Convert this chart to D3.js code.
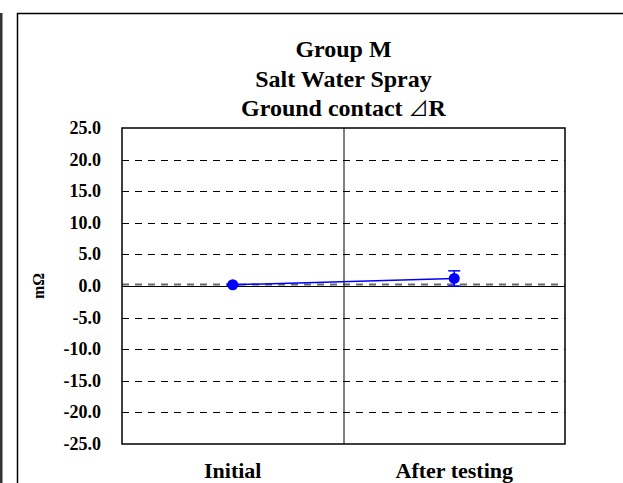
<!DOCTYPE html>
<html>
<head>
<meta charset="utf-8">
<script src="https://cdn.jsdelivr.net/npm/d3@7"></script>
<style>
  body { margin: 0; background: #fff; }
  svg text { font-family: "Liberation Serif", "Times New Roman", serif; font-weight: bold; fill: #000; }
  svg tspan.tri { font-family: "Noto Sans CJK JP", sans-serif; font-weight: normal; font-size: 20px; }
</style>
</head>
<body>
<script>
// chart values
var categories = ["Initial", "After testing"];
var means = [0.2, 1.2];
var errors = [0.1, 1.2];
var yTicks = [25, 20, 15, 10, 5, 0, -5, -10, -15, -20, -25];
var titleLines = ["Group M", "Salt Water Spray", "Ground contact \u22BFR"];
var yTitle = "m\u03A9";

var width = 623, height = 483;
var plot = { left: 122, right: 565, top: 128, bottom: 444 };

var svg = d3.select("body").append("svg")
    .attr("width", width)
    .attr("height", height);

// dark strip on far left and the chart frame
svg.append("rect")
    .attr("x", 0).attr("y", 13)
    .attr("width", 2.5).attr("height", height - 13)
    .attr("fill", "#333");

svg.append("rect")
    .attr("x", 17.5).attr("y", 13.5)
    .attr("width", 700).attr("height", 600)
    .attr("fill", "none")
    .attr("stroke", "#000")
    .attr("stroke-width", 1.5);

var x = d3.scaleBand()
    .domain(categories)
    .range([plot.left, plot.right])
    .padding(0);

var y = d3.scaleLinear()
    .domain([-25, 25])
    .range([plot.bottom, plot.top]);

// title, the triangle glyph goes in its own tspan
var titles = svg.selectAll(".title")
    .data(titleLines)
    .enter().append("text")
    .attr("class", "title")
    .attr("x", (plot.left + plot.right) / 2)
    .attr("y", function(d, i) { return 57 + i * 29.5; })
    .attr("text-anchor", "middle")
    .attr("font-size", "24px");

titles.each(function(d) {
    var t = d3.select(this);
    d.split(/(\u22BF)/).forEach(function(part) {
        if (!part) return;
        t.append("tspan")
            .attr("class", part === "\u22BF" ? "tri" : null)
            .text(part);
    });
});

// dashed grid
svg.selectAll(".grid")
    .data(yTicks.filter(function(d) { return d !== 25 && d !== -25; }))
    .enter().append("line")
    .attr("class", "grid")
    .attr("x1", plot.left).attr("x2", plot.right)
    .attr("y1", function(d) { return Math.round(y(d)) + 0.5 - (d === 0 ? 2 : 0); })
    .attr("y2", function(d) { return Math.round(y(d)) + 0.5 - (d === 0 ? 2 : 0); })
    .attr("stroke", function(d) { return d === 0 ? "#666" : "#000"; })
    .attr("stroke-width", function(d) { return d === 0 ? 2 : 1; })
    .attr("stroke-dasharray", "7,6");

// zero line
svg.append("line")
    .attr("x1", plot.left).attr("x2", plot.right)
    .attr("y1", Math.round(y(0)) + 0.5).attr("y2", Math.round(y(0)) + 0.5)
    .attr("stroke", "#000").attr("stroke-width", 1.2);

// divider between categories
svg.append("line")
    .attr("x1", x(categories[1]) + 0.5).attr("x2", x(categories[1]) + 0.5)
    .attr("y1", plot.top).attr("y2", plot.bottom)
    .attr("stroke", "#000").attr("stroke-width", 1);

// plot border
svg.append("rect")
    .attr("x", plot.left).attr("y", plot.top)
    .attr("width", plot.right - plot.left)
    .attr("height", plot.bottom - plot.top)
    .attr("fill", "none")
    .attr("stroke", "#000")
    .attr("stroke-width", 1.5);

// y tick labels (plain hyphen for negatives)
svg.selectAll(".ytick")
    .data(yTicks)
    .enter().append("text")
    .attr("class", "ytick")
    .attr("x", plot.left - 21)
    .attr("y", function(d) { return y(d) + 6; })
    .attr("text-anchor", "end")
    .attr("font-size", "18px")
    .text(function(d) { return d3.format(".1f")(d).replace("\u2212", "-"); });

// y axis title
svg.append("text")
    .attr("transform", "translate(44," + y(0) + ") rotate(-90)")
    .attr("text-anchor", "middle")
    .attr("font-size", "16px")
    .text(yTitle);

// category labels
svg.selectAll(".xlab")
    .data(categories)
    .enter().append("text")
    .attr("class", "xlab")
    .attr("x", function(d) { return x(d) + x.bandwidth() / 2; })
    .attr("y", 478)
    .attr("text-anchor", "middle")
    .attr("font-size", "22px")
    .text(function(d) { return d; });

var pts = categories.map(function(c, i) {
    return { cat: c, mean: means[i], err: errors[i] };
});

// error bars
var eb = svg.selectAll(".err")
    .data(pts)
    .enter().append("g")
    .attr("class", "err")
    .attr("stroke", "#0000ff")
    .attr("stroke-width", 1.5);

eb.append("line")
    .attr("x1", function(d) { return x(d.cat) + x.bandwidth() / 2; })
    .attr("x2", function(d) { return x(d.cat) + x.bandwidth() / 2; })
    .attr("y1", function(d) { return y(d.mean + d.err); })
    .attr("y2", function(d) { return y(d.mean - d.err); });

eb.append("line")
    .attr("x1", function(d) { return x(d.cat) + x.bandwidth() / 2 - 6; })
    .attr("x2", function(d) { return x(d.cat) + x.bandwidth() / 2 + 6; })
    .attr("y1", function(d) { return y(d.mean + d.err); })
    .attr("y2", function(d) { return y(d.mean + d.err); });

eb.append("line")
    .attr("x1", function(d) { return x(d.cat) + x.bandwidth() / 2 - 6; })
    .attr("x2", function(d) { return x(d.cat) + x.bandwidth() / 2 + 6; })
    .attr("y1", function(d) { return y(d.mean - d.err); })
    .attr("y2", function(d) { return y(d.mean - d.err); });

// mean line
svg.append("path")
    .datum(pts)
    .attr("fill", "none")
    .attr("stroke", "#0000ff")
    .attr("stroke-width", 1.5)
    .attr("d", d3.line()
        .x(function(d) { return x(d.cat) + x.bandwidth() / 2; })
        .y(function(d) { return y(d.mean); }));

svg.selectAll(".pt")
    .data(pts)
    .enter().append("circle")
    .attr("class", "pt")
    .attr("cx", function(d) { return x(d.cat) + x.bandwidth() / 2; })
    .attr("cy", function(d) { return y(d.mean); })
    .attr("r", 5.5)
    .attr("fill", "#0000ff");
</script>
</body>
</html>
